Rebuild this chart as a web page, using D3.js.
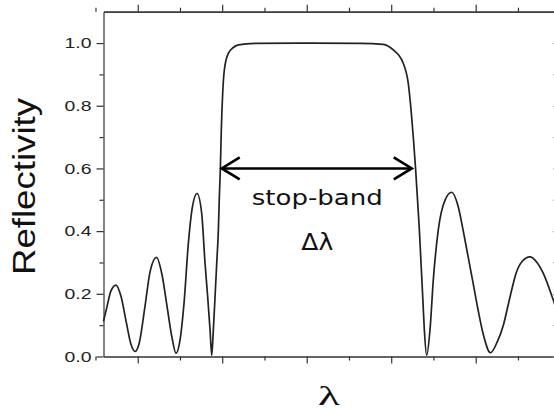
<!DOCTYPE html>
<html>
<head>
<meta charset="utf-8">
<script src="https://cdnjs.cloudflare.com/ajax/libs/d3/7.8.5/d3.min.js"></script>
<style>
  body { margin: 0; background: #fff; }
  svg { display: block; }
</style>
</head>
<body>
<svg id="chart" width="554" height="420"></svg>
<script>
// wavelength in arbitrary units (major ticks at whole numbers, labels hidden)
const wavelength = [0.595, 0.637, 0.684, 0.743, 0.802, 0.862, 0.921, 0.968, 1.015, 1.086,
  1.146, 1.222, 1.288, 1.347, 1.406, 1.453, 1.501, 1.548, 1.599, 1.643,
  1.702, 1.757, 1.796, 1.828, 1.856, 1.876, 1.895, 1.915, 1.935, 1.954,
  1.966, 1.978, 1.989, 2.004, 2.025, 2.072, 2.128, 2.191, 2.388, 2.921,
  3.631, 3.903, 4.025, 4.143, 4.202, 4.240, 4.264, 4.288, 4.309, 4.333,
  4.353, 4.373, 4.392, 4.420, 4.459, 4.498, 4.557, 4.637, 4.716, 4.791,
  4.853, 4.909, 4.972, 5.027, 5.090, 5.175, 5.252, 5.327, 5.406, 5.477,
  5.548, 5.643, 5.725, 5.800, 5.918, 5.962];

const reflectivity = [0.112, 0.160, 0.210, 0.228, 0.192, 0.113, 0.038, 0.016, 0.040, 0.160,
  0.270, 0.316, 0.260, 0.160, 0.060, 0.010, 0.053, 0.170, 0.360, 0.470,
  0.520, 0.457, 0.300, 0.190, 0.085, 0.004, 0.085, 0.190, 0.297, 0.400,
  0.510, 0.600, 0.720, 0.830, 0.914, 0.967, 0.985, 0.994, 0.999, 1.000,
  0.999, 0.996, 0.978, 0.935, 0.871, 0.770, 0.690, 0.600, 0.510, 0.404,
  0.297, 0.190, 0.085, 0.004, 0.085, 0.244, 0.404, 0.499, 0.524, 0.480,
  0.400, 0.320, 0.230, 0.150, 0.070, 0.012, 0.045, 0.100, 0.190, 0.265,
  0.303, 0.318, 0.300, 0.265, 0.180, 0.145];

const yTicks = [0, 0.2, 0.4, 0.6, 0.8, 1.0];

// stop-band annotation (arrow at R = 0.6)
const bandEdges = [1.994, 4.243];
const bandLevel = 0.6;
const bandCenter = 3.125;

const svg = d3.select('#chart');

const x = d3.scaleLinear()
  .domain([0.595, 5.962])
  .range([103.5, 557]);

const y = d3.scaleLinear()
  .domain([0, 1.1])
  .range([356.5, 11.7]);

const majorX = d3.range(1, 6);
const minorX = d3.range(0.5, 6, 1);
const minorY = d3.range(0.1, 1.1, 0.2);

const axisColor = '#333';

// bottom axis
svg.append('g')
  .attr('transform', `translate(0,${y(0)})`)
  .call(d3.axisBottom(x).tickValues(majorX).tickSize(7).tickSizeOuter(0).tickFormat(''))
  .call(g => g.append('g').call(d3.axisBottom(x).tickValues(minorX).tickSize(4).tickSizeOuter(0).tickFormat('')))
  .selectAll('path, line')
  .attr('stroke', axisColor)
  .attr('stroke-width', 1.2);

// top axis
svg.append('g')
  .attr('transform', `translate(0,${y(1.1)})`)
  .call(d3.axisTop(x).tickValues(majorX).tickSize(7).tickSizeOuter(0).tickFormat(''))
  .call(g => g.append('g').call(d3.axisTop(x).tickValues(minorX).tickSize(4).tickSizeOuter(0).tickFormat('')))
  .selectAll('path, line')
  .attr('stroke', axisColor)
  .attr('stroke-width', 1.2);

// left axis
const left = svg.append('g')
  .attr('transform', `translate(${x(0.595)},0)`)
  .call(d3.axisLeft(y).tickValues(yTicks).tickSize(7).tickSizeOuter(0).tickPadding(5)
    .tickFormat(d3.format('.1f')));

left.append('g')
  .call(d3.axisLeft(y).tickValues(minorY).tickSize(4).tickSizeOuter(0).tickFormat(''))
  .select('.domain').remove();

left.selectAll('path, line')
  .attr('stroke', axisColor)
  .attr('stroke-width', 1.2);

left.selectAll('text')
  .attr('font-family', '"Liberation Sans", Arial, sans-serif')
  .attr('font-size', 15)
  .attr('fill', '#222')
  .attr('textLength', 27)
  .attr('lengthAdjust', 'spacingAndGlyphs');

// right axis, mostly off the edge
svg.append('g')
  .attr('transform', `translate(${x(5.962)},0)`)
  .call(d3.axisRight(y).tickValues(d3.range(0, 1.1, 0.1)).tickSize(-4).tickSizeOuter(0).tickFormat(''))
  .selectAll('path, line')
  .attr('stroke', '#999')
  .attr('stroke-width', 1);

// reflectivity curve
const points = wavelength.map((w, i) => [w, reflectivity[i]]);

const line = d3.line()
  .x(d => x(d[0]))
  .y(d => y(d[1]))
  .curve(d3.curveMonotoneX);

svg.append('path')
  .datum(points)
  .attr('fill', 'none')
  .attr('stroke', '#222')
  .attr('stroke-width', 1.7)
  .attr('d', line);

// double arrow
const ay = y(bandLevel), ax0 = x(bandEdges[0]), ax1 = x(bandEdges[1]);
const head = 18, half = 11;

const arrow = svg.append('g')
  .attr('fill', 'none')
  .attr('stroke', '#000')
  .attr('stroke-width', 2.6);

arrow.append('line')
  .attr('x1', ax0 + 1).attr('x2', ax1 - 1)
  .attr('y1', ay).attr('y2', ay);

arrow.append('path')
  .attr('d', `M${ax0 + head},${ay - half}L${ax0},${ay}L${ax0 + head},${ay + half}`);

arrow.append('path')
  .attr('d', `M${ax1 - head},${ay - half}L${ax1},${ay}L${ax1 - head},${ay + half}`);

svg.append('text')
  .attr('x', x(bandCenter))
  .attr('y', y(0.483))
  .attr('text-anchor', 'middle')
  .attr('font-family', '"DejaVu Sans", sans-serif')
  .attr('font-size', 22)
  .attr('fill', '#111')
  .attr('textLength', 131)
  .attr('lengthAdjust', 'spacingAndGlyphs')
  .text('stop-band');

svg.append('text')
  .attr('x', x(bandCenter))
  .attr('y', y(0.34))
  .attr('text-anchor', 'middle')
  .attr('font-family', '"DejaVu Sans", sans-serif')
  .attr('font-size', 23)
  .attr('fill', '#111')
  .attr('textLength', 32)
  .attr('lengthAdjust', 'spacingAndGlyphs')
  .text('Δλ');

// axis titles
svg.append('text')
  .attr('transform', 'translate(35,186.5) rotate(-90)')
  .attr('text-anchor', 'middle')
  .attr('font-family', '"Liberation Sans", Arial, sans-serif')
  .attr('font-size', 31)
  .attr('fill', '#111')
  .attr('textLength', 177)
  .attr('lengthAdjust', 'spacingAndGlyphs')
  .text('Reflectivity');

svg.append('text')
  .attr('x', 329)
  .attr('y', 405)
  .attr('text-anchor', 'middle')
  .attr('font-family', '"Liberation Serif", serif')
  .attr('font-size', 28)
  .attr('fill', '#111')
  .attr('textLength', 22)
  .attr('lengthAdjust', 'spacingAndGlyphs')
  .text('λ');
</script>
</body>
</html>
